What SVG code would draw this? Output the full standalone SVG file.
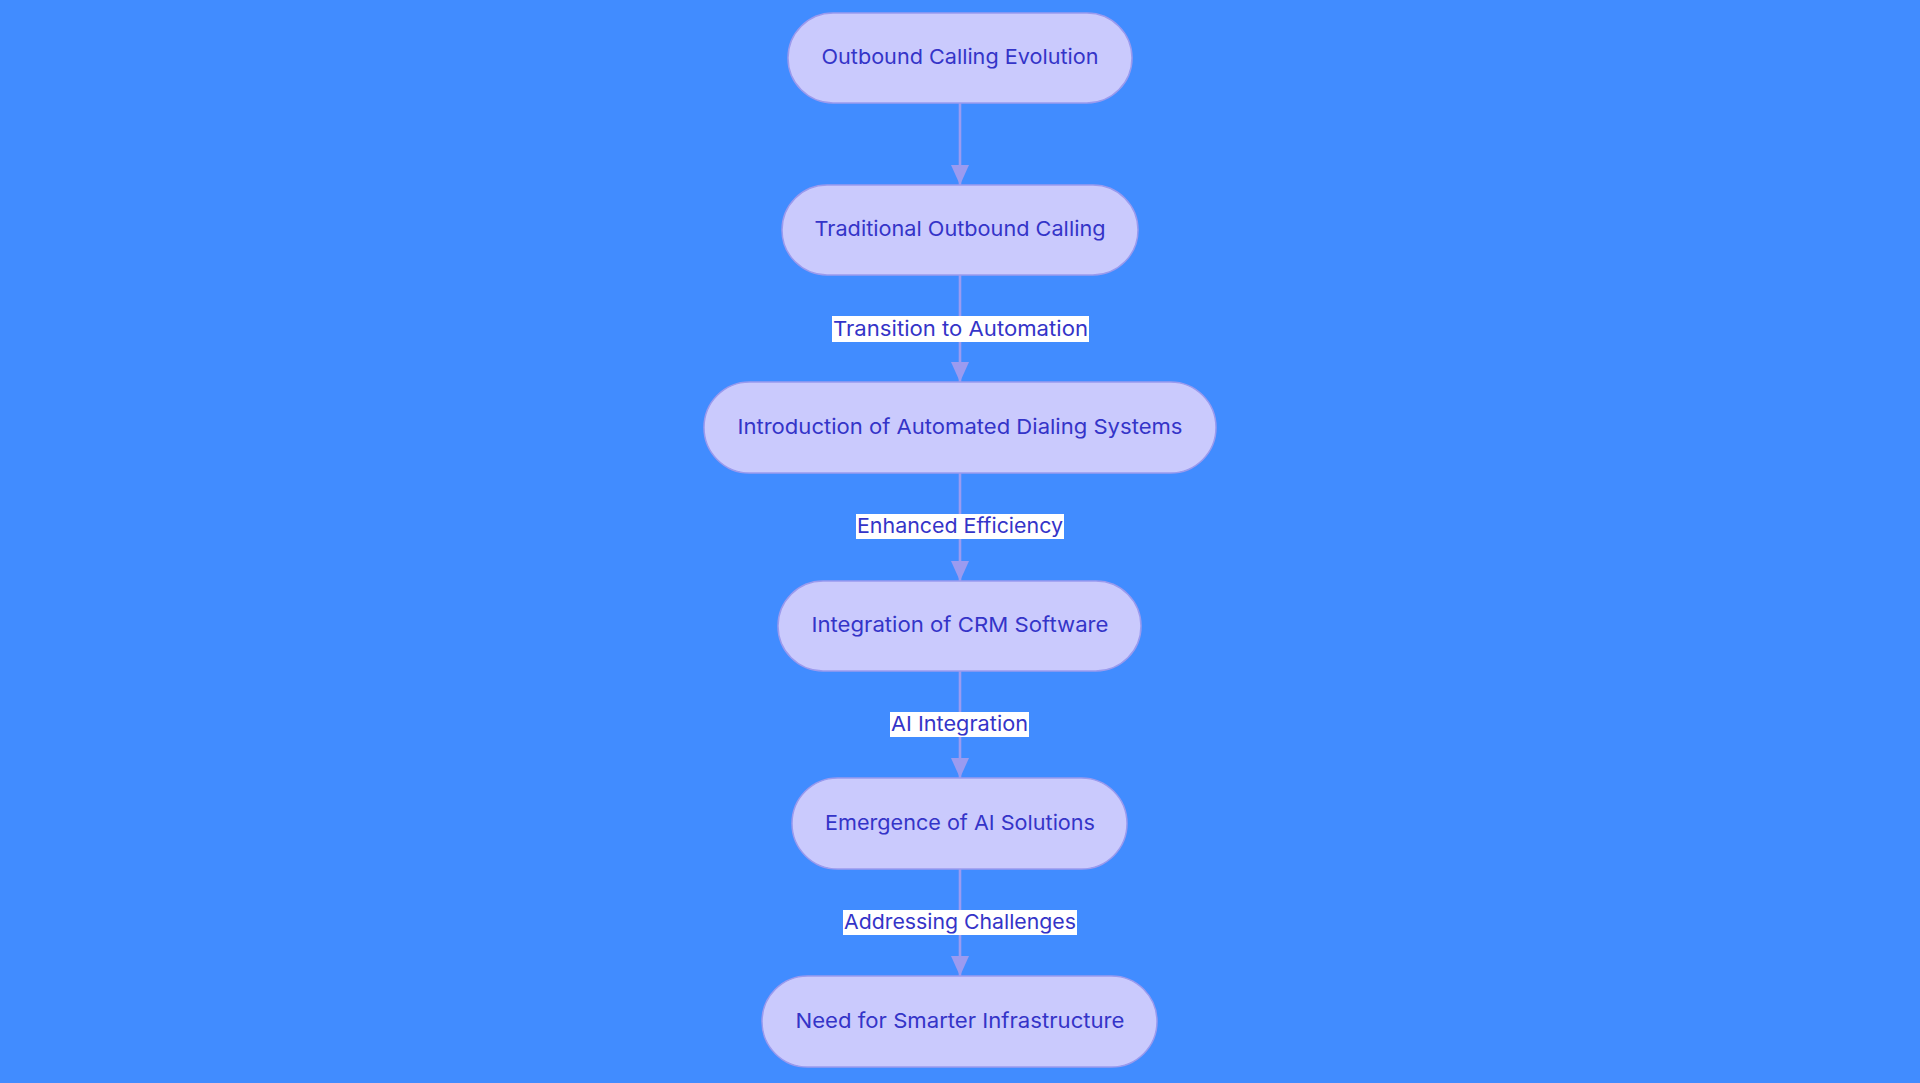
<svg xmlns="http://www.w3.org/2000/svg" width="1920" height="1083" viewBox="0 0 1920 1083">
<defs>
<style>
.node rect{fill:#cacafd;stroke:#9a9aee;stroke-width:1.5}
.node text{font-family:Inter,"Noto Sans","DejaVu Sans",sans-serif;font-size:20.5px;fill:#3434c8;text-anchor:middle;dominant-baseline:central}
.edge{stroke:#9b9bf0;stroke-width:2.6;fill:none}
.lbl rect{fill:#ffffff}
.lbl text{font-family:Inter,"Noto Sans","DejaVu Sans",sans-serif;font-size:20.5px;fill:#3434c8;text-anchor:middle;dominant-baseline:central}
</style>
<marker id="arr" viewBox="0 0 20 18" refX="20" refY="9" markerWidth="20" markerHeight="18" markerUnits="userSpaceOnUse" orient="auto">
<path d="M0,0 L20,9 L0,18 Z" fill="#9b9bf0"/>
</marker>
</defs>
<rect x="0" y="0" width="1920" height="1083" fill="#418cff"/>
<g id="connectors">
<path class="edge" d="M960,103 L960,185" marker-end="url(#arr)"/>
<path class="edge" d="M960,275 L960,382" marker-end="url(#arr)"/>
<path class="edge" d="M960,473 L960,581" marker-end="url(#arr)"/>
<path class="edge" d="M960,671 L960,778" marker-end="url(#arr)"/>
<path class="edge" d="M960,869 L960,976" marker-end="url(#arr)"/>
<g class="lbl" id="label-1"><rect x="832" y="316" width="257" height="26"/><text x="960.5" y="328" textLength="255" lengthAdjust="spacingAndGlyphs">Transition to Automation</text></g>
<g class="lbl" id="label-2"><rect x="856" y="514" width="208" height="25"/><text x="960" y="525.5" textLength="206" lengthAdjust="spacingAndGlyphs">Enhanced Efficiency</text></g>
<g class="lbl" id="label-3"><rect x="890" y="712" width="139" height="25"/><text x="959.5" y="723.5" textLength="137" lengthAdjust="spacingAndGlyphs">AI Integration</text></g>
<g class="lbl" id="label-4"><rect x="843" y="910" width="234" height="25"/><text x="960" y="921.5" textLength="232" lengthAdjust="spacingAndGlyphs">Addressing Challenges</text></g>
</g>
<g class="node" id="node-1"><rect x="788" y="13" width="344" height="90" rx="45" ry="45"/><text x="960" y="56.5" textLength="277" lengthAdjust="spacingAndGlyphs">Outbound Calling Evolution</text></g>
<g class="node" id="node-2"><rect x="782" y="185" width="356" height="90" rx="45" ry="45"/><text x="960" y="228.5" textLength="291" lengthAdjust="spacingAndGlyphs">Traditional Outbound Calling</text></g>
<g class="node" id="node-3"><rect x="704" y="382" width="512" height="91" rx="45.5" ry="45.5"/><text x="960" y="426" textLength="445" lengthAdjust="spacingAndGlyphs">Introduction of Automated Dialing Systems</text></g>
<g class="node" id="node-4"><rect x="778" y="581" width="363" height="90" rx="45" ry="45"/><text x="960" y="624.5" textLength="297" lengthAdjust="spacingAndGlyphs">Integration of CRM Software</text></g>
<g class="node" id="node-5"><rect x="792" y="778" width="335" height="91" rx="45.5" ry="45.5"/><text x="960" y="822" textLength="270" lengthAdjust="spacingAndGlyphs">Emergence of AI Solutions</text></g>
<g class="node" id="node-6"><rect x="762" y="976" width="395" height="91" rx="45.5" ry="45.5"/><text x="960" y="1020" textLength="329" lengthAdjust="spacingAndGlyphs">Need for Smarter Infrastructure</text></g>
</svg>
